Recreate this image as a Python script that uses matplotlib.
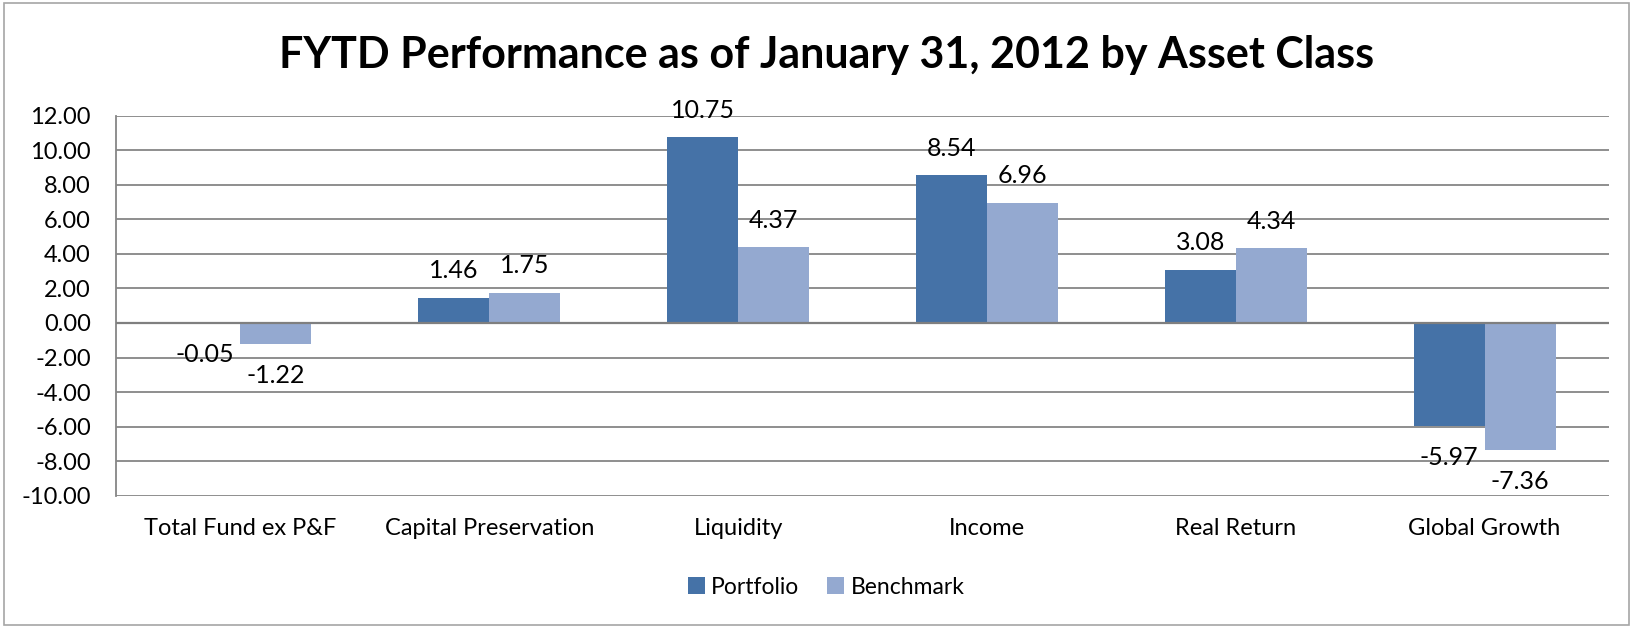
import matplotlib
matplotlib.use("Agg")
import matplotlib.pyplot as plt
import numpy as np
from matplotlib.patches import Rectangle

categories = ["Total Fund ex P&F", "Capital Preservation", "Liquidity", "Income", "Real Return", "Global Growth"]
portfolio = [-0.05, 1.46, 10.75, 8.54, 3.08, -5.97]
benchmark = [-1.22, 1.75, 4.37, 6.96, 4.34, -7.36]
series_names = ["Portfolio", "Benchmark"]
colors = ["#4572A7", "#94A9D0"]
title = "FYTD Performance as of January 31, 2012 by Asset Class"

plt.rcParams['font.family'] = ['Lato', 'DejaVu Sans']

W, H = 1633, 626
fig = plt.figure(figsize=(W / 100, H / 100), dpi=100)
fig.patch.set_facecolor("white")
fig.patches.append(Rectangle((4.5 / W, 1.5 / H), (W - 8) / W, (H - 4) / H, transform=fig.transFigure,
                             fill=False, edgecolor="#A6A6A6", linewidth=1.2))

ax = fig.add_axes([116 / W, 1 - 495.7 / H, (1609 - 116) / W, (495.7 - 115.7) / H])

x = np.arange(len(categories))
bw = 0.285
for i, (vals, name, col) in enumerate(zip([portfolio, benchmark], series_names, colors)):
    pos = x + (i - 0.5) * bw
    ax.bar(pos, vals, width=bw, color=col, label=name, zorder=3)
    for p, v in zip(pos, vals):
        off = 27 if v >= 0 else -31
        ax.annotate(f"{v:.2f}", (p, v), xytext=(0, off), textcoords="offset pixels",
                    ha="center", va="center", fontsize=18, color="black", zorder=4)

ax.set_xlim(-0.5, len(categories) - 0.5)
ax.set_ylim(-10, 12)
ax.set_yticks(np.arange(-10, 13, 2))
ax.set_yticklabels([f"{t:.2f}" for t in np.arange(-10, 13, 2)], fontsize=17)
ax.yaxis.grid(True, color="#868686", linewidth=1.3, zorder=0)
ax.set_axisbelow(True)
ax.axhline(0, color="#7F7F7F", linewidth=1.6, zorder=3.5)
ax.set_xticks(x)
ax.set_xticklabels(categories, fontsize=17)
ax.tick_params(axis="y", length=0, pad=18)
ax.tick_params(axis="x", length=0, pad=16)
for s in ["top", "right", "bottom"]:
    ax.spines[s].set_visible(False)
ax.spines["left"].set_color("#868686")
ax.spines["left"].set_linewidth(1.3)

fig.text(0.5 * (279 + 1375) / W, 1 - 55 / H, title, ha="center", va="center",
         fontsize=31, fontweight="bold")

leg = fig.legend(loc="center", bbox_to_anchor=(826 / W, 1 - 587 / H), ncol=2, frameon=False,
                 fontsize=16.5, handlelength=0.75, handleheight=0.75, handletextpad=0.28, columnspacing=1.2)

fig.savefig("out.png", dpi=100)
